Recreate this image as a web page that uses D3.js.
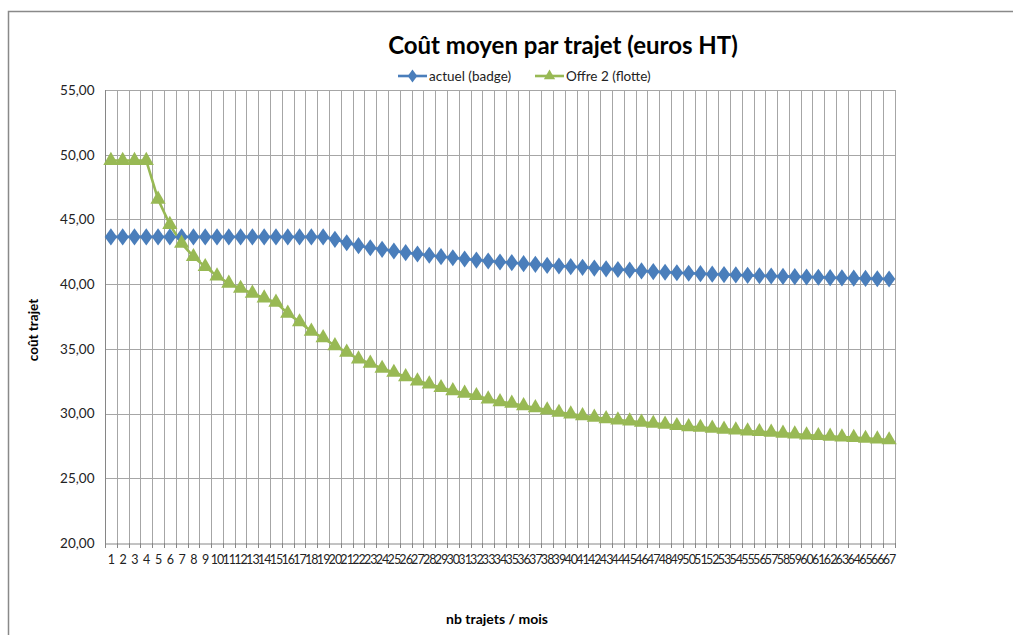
<!DOCTYPE html>
<html>
<head>
<meta charset="utf-8">
<script src="https://cdn.jsdelivr.net/npm/d3@7"></script>
<style>
  body { margin: 0; background: #fff; }
  text { font-family: Lato, "Open Sans", sans-serif; }
</style>
</head>
<body>
<div id="chart"></div>
<script>
// data
var trips = d3.range(1, 68);
var actuel = [
  43.65, 43.65, 43.65, 43.65, 43.65, 43.65, 43.65, 43.65, 43.65, 43.65,
  43.65, 43.65, 43.65, 43.65, 43.65, 43.65, 43.65, 43.65, 43.65, 43.46,
  43.20, 42.97, 42.81, 42.69, 42.56, 42.43, 42.33, 42.23, 42.12, 42.04,
  41.94, 41.86, 41.79, 41.71, 41.66, 41.58, 41.53, 41.45, 41.40, 41.35,
  41.30, 41.24, 41.18, 41.13, 41.08, 41.02, 40.97, 40.92, 40.88, 40.84,
  40.81, 40.77, 40.74, 40.71, 40.68, 40.65, 40.63, 40.60, 40.58, 40.55,
  40.53, 40.50, 40.48, 40.46, 40.44, 40.42, 40.40
];
var offre2 = [
  49.55, 49.55, 49.55, 49.55, 46.55, 44.6, 43.15, 42.12, 41.35, 40.63,
  40.06, 39.67, 39.29, 38.92, 38.6, 37.74, 37.08, 36.35, 35.85, 35.24,
  34.73, 34.21, 33.88, 33.49, 33.18, 32.84, 32.51, 32.28, 32.0, 31.76,
  31.56, 31.38, 31.12, 30.91, 30.79, 30.6, 30.45, 30.27, 30.09, 29.96,
  29.83, 29.71, 29.6, 29.5, 29.42, 29.32, 29.24, 29.17, 29.06, 28.98,
  28.93, 28.86, 28.78, 28.73, 28.65, 28.6, 28.55, 28.47, 28.42, 28.34,
  28.29, 28.24, 28.19, 28.14, 28.08, 28.03, 27.96
];
var yTicks = [20, 25, 30, 35, 40, 45, 50, 55];
var seriesNames = ["actuel (badge)", "Offre 2 (flotte)"];
var colors = ["#4a7ebb", "#98b954"];

var W = 1013, H = 635;
var margin = {left: 105, right: 118, top: 90, bottom: 92};
var width = W - margin.left - margin.right,
    height = H - margin.top - margin.bottom;

var svg = d3.select("#chart").append("svg")
  .attr("width", W)
  .attr("height", H);

// outer frame (only left and top visible)
svg.append("path")
  .attr("d", "M8.5," + H + "V11.5H" + W)
  .attr("fill", "none")
  .attr("stroke", "#898989")
  .attr("stroke-width", 1.5);

var g = svg.append("g")
  .attr("transform", "translate(" + margin.left + "," + margin.top + ")");

var x = d3.scaleBand().domain(trips).range([0, width]);
var y = d3.scaleLinear().domain([20, 55]).range([height, 0]);

// vertical grid lines at category boundaries
var bounds = trips.map(function(d) { return x(d); }).concat([width]);
g.selectAll(".vgrid").data(bounds.slice(1)).enter().append("line")
  .attr("class", "vgrid")
  .attr("x1", function(d) { return Math.round(d) + 0.5; })
  .attr("x2", function(d) { return Math.round(d) + 0.5; })
  .attr("y1", 0).attr("y2", height)
  .attr("stroke", "#a6a6a6");

// horizontal grid lines
g.selectAll(".hgrid").data(yTicks.slice(1)).enter().append("line")
  .attr("class", "hgrid")
  .attr("x1", 0).attr("x2", width)
  .attr("y1", function(d) { return Math.round(y(d)) + 0.5; })
  .attr("y2", function(d) { return Math.round(y(d)) + 0.5; })
  .attr("stroke", "#a6a6a6");

// y axis
var yAxis = g.append("g")
  .attr("transform", "translate(0.5,0)")
  .call(d3.axisLeft(y).tickValues(yTicks).tickSize(5).tickPadding(6)
    .tickFormat(function(d) { return d3.format(".2f")(d).replace(".", ","); }));
yAxis.select(".domain").attr("stroke", "#868686").attr("d", "M0,0V" + height);
yAxis.selectAll(".tick line").attr("stroke", "#868686").attr("x1", -5);
yAxis.selectAll("text").attr("font-size", 13.5).attr("fill", "#222")
  .attr("font-family", "Lato, 'Open Sans', sans-serif");

// x axis
var xAxis = g.append("g")
  .attr("transform", "translate(0," + (height + 0.5) + ")")
  .call(d3.axisBottom(x).tickSize(0).tickPadding(12));
xAxis.select(".domain").attr("stroke", "#868686");
xAxis.selectAll(".tick line").remove();
g.selectAll(".xtick").data(bounds).enter().append("line")
  .attr("x1", function(d) { return Math.round(d) + 0.5; })
  .attr("x2", function(d) { return Math.round(d) + 0.5; })
  .attr("y1", height).attr("y2", height + 5)
  .attr("stroke", "#868686");
xAxis.selectAll("text").attr("font-size", 12.5).attr("fill", "#222")
  .attr("letter-spacing", "-0.9px")
  .attr("font-family", "Lato, 'Open Sans', sans-serif");

// lines and markers
var line = d3.line()
  .x(function(d, i) { return x(trips[i]) + x.bandwidth() / 2; })
  .y(function(d) { return y(d); });

var data = [actuel, offre2];
data.forEach(function(vals, k) {
  g.append("path")
    .datum(vals)
    .attr("fill", "none")
    .attr("stroke", colors[k])
    .attr("stroke-width", 2.6)
    .attr("d", line);
});

var diamond = d3.symbol().type(d3.symbolDiamond).size(85);
var tri = d3.symbol().type(d3.symbolTriangle).size(100);

g.selectAll(".m0").data(actuel).enter().append("path")
  .attr("class", "m0")
  .attr("d", diamond)
  .attr("transform", function(d, i) {
    return "translate(" + (x(trips[i]) + x.bandwidth() / 2) + "," + y(d) + ") scale(1.25,1)";
  })
  .attr("fill", colors[0]);

g.selectAll(".m1").data(offre2).enter().append("path")
  .attr("class", "m1")
  .attr("d", tri)
  .attr("transform", function(d, i) {
    return "translate(" + (x(trips[i]) + x.bandwidth() / 2) + "," + y(d) + ")";
  })
  .attr("fill", colors[1]);

// title
svg.append("text")
  .attr("x", 563).attr("y", 54)
  .attr("text-anchor", "middle")
  .attr("font-size", 24)
  .attr("font-weight", "bold")
  .attr("fill", "#000")
  .text("Coût moyen par trajet (euros HT)");

// legend
var legend = svg.append("g").attr("transform", "translate(398,76)");
var legX = [0, 137];
seriesNames.forEach(function(name, k) {
  var lg = legend.append("g").attr("transform", "translate(" + legX[k] + ",0)");
  lg.append("line")
    .attr("x1", 0).attr("x2", 29).attr("y1", 0).attr("y2", 0)
    .attr("stroke", colors[k]).attr("stroke-width", 2.6);
  lg.append("path")
    .attr("d", k === 0 ? d3.symbol().type(d3.symbolDiamond).size(50)() : d3.symbol().type(d3.symbolTriangle).size(55)())
    .attr("transform", "translate(14.5,0)" + (k === 0 ? " scale(1.25,1)" : ""))
    .attr("fill", colors[k]);
  lg.append("text")
    .attr("x", 31).attr("y", 4.5)
    .attr("font-size", 13.5)
    .attr("fill", "#222")
    .text(name);
});

// axis titles
svg.append("text")
  .attr("transform", "translate(38,330) rotate(-90)")
  .attr("text-anchor", "middle")
  .attr("font-size", 13.5)
  .attr("font-weight", "bold")
  .attr("fill", "#000")
  .text("coût trajet");

svg.append("text")
  .attr("x", 497).attr("y", 624)
  .attr("text-anchor", "middle")
  .attr("font-size", 14)
  .attr("font-weight", "bold")
  .attr("fill", "#000")
  .text("nb trajets / mois");
</script>
</body>
</html>
